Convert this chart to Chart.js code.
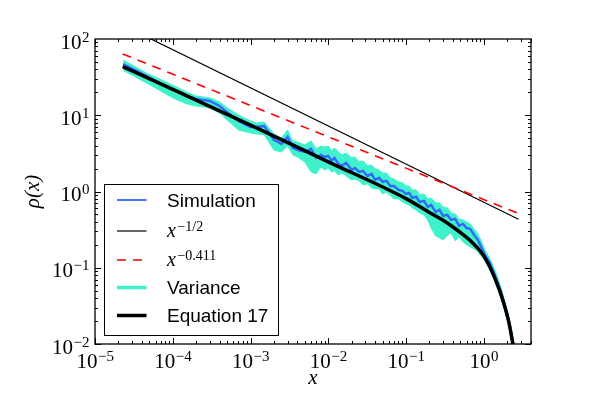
<!DOCTYPE html>
<html><head><meta charset="utf-8">
<script src="https://cdn.jsdelivr.net/npm/chart.js@4/dist/chart.umd.min.js"></script>
<style>html,body{margin:0;padding:0;background:#fff;}#wrap{width:589px;height:399px;position:relative;}</style>
</head><body><div id="wrap"><canvas id="c" width="589" height="399"></canvas></div>
<script>
// ---- data ----
const simX = [2.3e-5,3e-5,4e-5,5e-5,7e-5,1e-4,1.5e-4,2e-4,3e-4,4e-4,5e-4,7e-4,1e-3,
  1.2e-3,1.5e-3,2e-3,2.5e-3,3e-3,3.5e-3,4e-3,5e-3,6e-3,7e-3,8e-3,9e-3,1e-2,
  0.011,0.012,0.0135,0.015,0.017,0.02,0.022,0.025,0.028,0.032,0.036,0.04,0.045,0.05,0.056,0.063,0.07,0.08,0.09,0.1,
  0.11,0.12,0.135,0.15,0.17,0.19,0.21,0.24,0.27,0.3,0.34,0.38,0.43,0.48,0.54,0.6,0.67,0.75,0.84,0.94,
  1.05,1.2,1.35,1.5,1.7,1.9,2.1,2.3,2.5];
const simY = [47.0,41.0,35.3,31.3,26.1,21.8,17.9,16.4,15.4,13.2,11.0,8.42,7.02,
  7.02,7.24,4.75,4.21,5.19,3.73,3.51,3.30,3.62,2.76,3.02,2.84,2.93,
  2.52,2.76,2.30,2.17,2.37,1.92,2.04,1.81,1.86,1.60,1.70,1.42,1.51,1.34,1.38,1.18,1.18,1.05,1.02,0.930,
  0.958,0.824,0.850,0.731,0.753,0.628,0.667,0.540,0.574,0.479,0.493,0.424,0.437,0.354,0.376,0.333,0.323,0.270,0.232,0.182,
  0.143,0.116,0.0857,0.0653,0.0455,0.0298,0.0201,0.0128,0.00839];
const varUpper = [53.0,45.6,38.6,34.2,29.5,24.9,20.2,17.9,16.9,14.9,12.5,10.1,8.42,
  7.93,8.17,5.69,5.04,6.42,4.61,4.47,4.08,4.61,3.62,3.96,3.84,3.96,
  3.40,3.73,3.30,3.02,3.21,2.76,2.84,2.44,2.52,2.17,2.23,1.98,1.92,1.75,1.75,1.51,1.46,1.34,1.30,1.18,
  1.18,1.05,1.05,0.902,0.930,0.800,0.824,0.709,0.709,0.628,0.610,0.524,0.508,0.437,0.424,0.400,0.376,0.323,0.278,0.219,
  0.167,0.131,0.0997,0.0760,0.0513,0.0336,0.0227,0.0145,0.00919];
const varLower = [38.6,33.7,28.6,25.3,20.8,16.9,14.1,13.2,12.5,10.7,8.68,6.42,5.86,
  5.69,5.52,3.51,3.30,3.96,3.02,2.84,2.44,1.81,1.70,2.10,1.92,2.04,
  1.81,1.86,1.65,1.75,1.60,1.42,1.46,1.38,1.22,1.26,1.11,1.08,1.08,0.930,0.988,0.876,0.800,0.800,0.731,0.688,
  0.667,0.610,0.574,0.524,0.493,0.424,0.333,0.262,0.246,0.232,0.262,0.287,0.225,0.254,0.219,0.200,0.188,0.177,0.162,0.139,
  0.120,0.0939,0.0715,0.0545,0.0380,0.0256,0.0173,0.0114,0.00744];
const eqX = [2.27e-5,1e-4,1e-3,1e-2,0.1,0.2,0.3,0.5,0.7,1,1.4,1.8,2.1,2.35,2.5];
const eqY = [43.4,21.9,7.44,2.45,0.807,0.532,0.419,0.290,0.218,0.143,0.0715,0.0347,0.0193,0.0104,0.00722];
const halfX = [2.27e-5,2.8];
const halfY = [152,0.433];
const powX = [2.27e-5,2.8];
const powY = [63.6,0.514];
const xTickExps = [-5,-4,-3,-2,-1,0];
const yTickExps = [-2,-1,0,1,2];
const seriesNames = ['Simulation','x^{-1/2}','x^{-0.411}','Variance','Equation 17'];

const TURQ = '#40f2cc', BLUE = '#3366ff';
const SERIF = '"Liberation Serif", "DejaVu Serif", serif';
const pts = (xs, ys) => xs.map((x, i) => ({x: x, y: ys[i]}));
const expText = e => (e < 0 ? '\u2212' : '') + Math.abs(e);

function drawPow(ctx, e, px, py, align) {
  ctx.font = '21px ' + SERIF;
  const w1 = ctx.measureText('10').width;
  ctx.font = '15px ' + SERIF;
  const w2 = ctx.measureText(expText(e)).width;
  const x0 = align === 'center' ? px - (w1 + w2) / 2 : px - (w1 + w2);
  ctx.font = '21px ' + SERIF;
  ctx.fillText('10', x0, py);
  ctx.font = '15px ' + SERIF;
  ctx.fillText(expText(e), x0 + w1 + 0.5, py - 7);
}

const frame = {
  id: 'frame',
  afterDraw(chart) {
    const {ctx, chartArea: a, scales: {x, y}} = chart;
    ctx.save();
    ctx.strokeStyle = '#000';
    ctx.lineWidth = 1;
    ctx.beginPath();
    for (let e = -6; e <= 1; e++) for (let m = 1; m < 10; m++) {
      const v = m * Math.pow(10, e);
      if (v >= x.min * 0.999 && v <= x.max) {
        const p = Math.round(x.getPixelForValue(v)) + 0.5, L = m === 1 ? 6 : 3;
        ctx.moveTo(p, a.bottom); ctx.lineTo(p, a.bottom - L);
        ctx.moveTo(p, a.top); ctx.lineTo(p, a.top + L);
      }
      if (v >= y.min * 0.999 && v <= y.max * 1.001) {
        const p = Math.round(y.getPixelForValue(v)) + 0.5, L = m === 1 ? 6 : 3;
        ctx.moveTo(a.left, p); ctx.lineTo(a.left + L, p);
        ctx.moveTo(a.right, p); ctx.lineTo(a.right - L, p);
      }
    }
    ctx.stroke();
    ctx.lineWidth = 1.3;
    ctx.strokeRect(a.left, a.top, a.right - a.left, a.bottom - a.top);

    ctx.fillStyle = '#000';
    ctx.textAlign = 'left';
    ctx.textBaseline = 'alphabetic';
    xTickExps.forEach(e => drawPow(ctx, e, x.getPixelForValue(Math.pow(10, e)), a.bottom + 24.3, 'center'));
    yTickExps.forEach(e => drawPow(ctx, e, a.left - 6, y.getPixelForValue(Math.pow(10, e)) + 9.5, 'right'));

    const L0 = a.left + 9.5, T0 = a.top + 145.5, W = 174, H = 151;
    ctx.fillStyle = '#fff';
    ctx.fillRect(L0, T0, W, H);
    ctx.lineWidth = 1;
    ctx.strokeStyle = '#000';
    ctx.strokeRect(L0, T0, W, H);
    const rows = [T0 + 15.5, T0 + 46.5, T0 + 75.5, T0 + 103, T0 + 131];
    const sx0 = L0 + 12.5, sx1 = L0 + 42, tx = L0 + 62.5;
    const styles = [
      {c: BLUE, w: 1.8, d: []},
      {c: '#000', w: 1.2, d: []},
      {c: '#ff0000', w: 1.6, d: [9, 7]},
      {c: TURQ, w: 3.5, d: []},
      {c: '#000', w: 3.5, d: []}
    ];
    styles.forEach((s, i) => {
      ctx.beginPath();
      ctx.strokeStyle = s.c; ctx.lineWidth = s.w; ctx.setLineDash(s.d);
      ctx.moveTo(sx0, rows[i]); ctx.lineTo(sx1, rows[i]); ctx.stroke();
    });
    ctx.setLineDash([]);
    ctx.fillStyle = '#000';
    ctx.font = '19px "Liberation Sans", Arial, sans-serif';
    ctx.fillText(seriesNames[0], tx, rows[0] + 6.5);
    ctx.fillText(seriesNames[3], tx, rows[3] + 6.5);
    ctx.fillText(seriesNames[4], tx, rows[4] + 6.5);
    const math = (row, sup) => {
      ctx.font = 'italic 20px ' + SERIF;
      ctx.fillText('x', tx, row + 6);
      const w = ctx.measureText('x').width;
      ctx.font = '14px ' + SERIF;
      ctx.fillText(sup, tx + w + 1.5, row - 0.5);
    };
    math(rows[1], '\u22121/2');
    math(rows[2], '\u22120.411');
    ctx.restore();
  }
};

new Chart(document.getElementById('c'), {
  type: 'line',
  data: {
    datasets: [
      {label: seriesNames[4], data: pts(eqX, eqY), borderColor: '#000', borderWidth: 3.5, pointRadius: 0, cubicInterpolationMode: 'monotone', fill: false, order: 0},
      {label: seriesNames[2], data: pts(powX, powY), borderColor: '#ff0000', borderWidth: 1.6, borderDash: [9, 7], pointRadius: 0, fill: false, order: 1},
      {label: seriesNames[1], data: pts(halfX, halfY), borderColor: '#000', borderWidth: 1.2, pointRadius: 0, fill: false, order: 2},
      {label: seriesNames[0], data: pts(simX, simY), borderColor: BLUE, borderWidth: 2.4, pointRadius: 0, fill: false, order: 3},
      {label: seriesNames[3], data: pts(simX, varUpper), borderColor: TURQ, backgroundColor: TURQ, borderWidth: 1, pointRadius: 0, fill: '+1', order: 4},
      {label: seriesNames[3] + ' (lower)', data: pts(simX, varLower), borderColor: TURQ, borderWidth: 1, pointRadius: 0, fill: false, order: 5}
    ]
  },
  options: {
    responsive: false,
    animation: false,
    events: [],
    layout: {padding: {top: 39, right: 58, left: 0, bottom: 0}},
    plugins: {legend: {display: false}, tooltip: {enabled: false}},
    scales: {
      x: {
        type: 'logarithmic', min: 1e-5, max: 4.05,
        grid: {display: false, drawTicks: false}, border: {display: false},
        afterBuildTicks: s => { s.ticks = xTickExps.map(e => ({value: Math.pow(10, e)})); },
        afterFit: s => { s.height = 55; },
        ticks: {display: false},
        title: {display: true, text: 'x', color: '#000', padding: {top: 0, bottom: 8},
          font: {family: SERIF, size: 21, style: 'italic'}}
      },
      y: {
        type: 'logarithmic', min: 1e-2, max: 1e2,
        grid: {display: false, drawTicks: false}, border: {display: false},
        afterBuildTicks: s => { s.ticks = yTickExps.map(e => ({value: Math.pow(10, e)})); },
        afterFit: s => { s.width = 95; },
        ticks: {display: false},
        title: {display: true, text: '\u03C1(x)', color: '#000', padding: {top: 21, bottom: 0},
          font: {family: SERIF, size: 21, style: 'italic'}}
      }
    }
  },
  plugins: [frame]
});
</script>
</body></html>
